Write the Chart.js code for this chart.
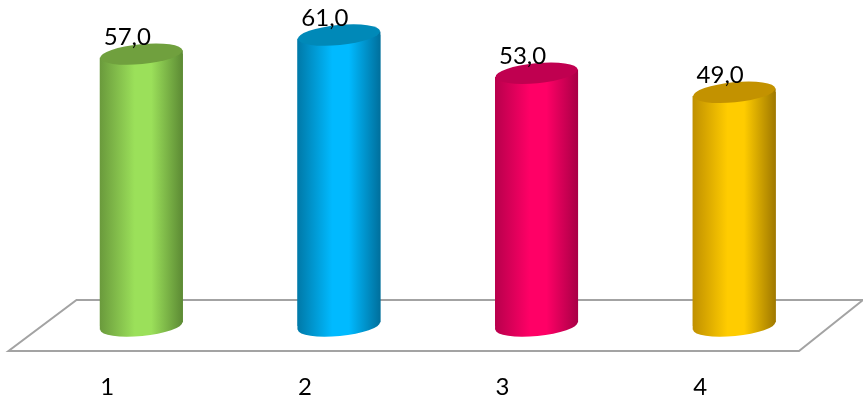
<!DOCTYPE html>
<html>
<head>
<meta charset="utf-8">
<style>
  html, body { margin: 0; padding: 0; background: #fff; }
  #wrap { width: 863px; height: 399px; }
</style>
<script src="https://cdn.jsdelivr.net/npm/chart.js@4"></script>
</head>
<body>
<div id="wrap"><canvas id="myChart" width="863" height="399"></canvas></div>
<script>
const categories = ['1', '2', '3', '4'];
const values = [57, 61, 53, 49];

// edge / middle / edge / cap colours for each cylinder
const edgeLeft = ['#6a9a3c', '#0079a8', '#b8004c', '#c09000'];
const middle = ['#9be05a', '#00baff', '#ff0066', '#ffcc00'];
const edgeRight = ['#5c8a34', '#006f9c', '#a80046', '#9f7800'];
const capColors = ['#70a03e', '#0089b8', '#c00050', '#c39200'];

const barWidth = 83;
const tilt = 3.7; // height offset of the ellipse's side points
const capHeight = 10;

function barGradient(ctx, x, i) {
  if (!Number.isFinite(x)) return middle[i]; // scales not laid out yet
  const left = x - barWidth / 2;
  const g = ctx.createLinearGradient(left, 0, left + barWidth, 0);
  g.addColorStop(0, edgeLeft[i]);
  g.addColorStop(0.42, middle[i]);
  g.addColorStop(0.62, middle[i]);
  g.addColorStop(1, edgeRight[i]);
  return g;
}

function ellipseAt(ctx, bar, y, fill) {
  ctx.beginPath();
  ctx.ellipse(bar.x, y, barWidth / 2 - 0.2, capHeight, -Math.atan2(8, barWidth), 0, Math.PI * 2);
  ctx.fillStyle = fill;
  ctx.fill();
}

// the side of a cylinder, with its ends slanted along the ellipses
function sidePath(ctx, bar) {
  const l = bar.x - barWidth / 2;
  const r = bar.x + barWidth / 2;
  ctx.moveTo(l, bar.y + tilt);
  ctx.lineTo(r, bar.y - tilt);
  ctx.lineTo(r, bar.base - tilt);
  ctx.lineTo(l, bar.base + tilt);
  ctx.closePath();
}

const cylinders = {
  id: 'cylinders',
  beforeDatasetsDraw(chart) {
    const ctx = chart.ctx;
    const a = chart.chartArea;
    const bars = chart.getDatasetMeta(0).data;

    // floor of the 3d plot
    ctx.save();
    ctx.strokeStyle = '#a3a3a3';
    ctx.lineWidth = 2;
    ctx.beginPath();
    ctx.moveTo(a.left - 34, a.bottom + 25);
    ctx.lineTo(a.right - 34, a.bottom + 25);
    ctx.lineTo(a.right + 30, a.bottom - 26);
    ctx.lineTo(a.left + 34, a.bottom - 26);
    ctx.closePath();
    ctx.stroke();
    ctx.restore();

    // round bottoms and the small wedges the square bars leave open
    bars.forEach((bar, i) => {
      const fill = barGradient(ctx, bar.x, i);
      ellipseAt(ctx, bar, bar.base, fill);
      ctx.beginPath();
      sidePath(ctx, bar);
      ctx.fillStyle = fill;
      ctx.fill();
    });

    // keep the square corners from poking out past the ellipses
    ctx.save();
    ctx.beginPath();
    bars.forEach(bar => sidePath(ctx, bar));
    ctx.clip();
  },
  afterDatasetsDraw(chart) {
    const ctx = chart.ctx;
    ctx.restore();
    const bars = chart.getDatasetMeta(0).data;
    bars.forEach((bar, i) => {
      ellipseAt(ctx, bar, bar.y, capColors[i]);
      ctx.save();
      ctx.fillStyle = '#000';
      ctx.font = '24px Lato';
      ctx.textAlign = 'center';
      ctx.textBaseline = 'middle';
      ctx.fillText(values[i].toFixed(1).replace('.', ','), bar.x - 14, bar.y - 17);
      ctx.restore();
    });
  }
};

const myChart = new Chart(document.getElementById('myChart').getContext('2d'), {
  type: 'bar',
  data: {
    labels: categories,
    datasets: [{
      data: values,
      barThickness: barWidth,
      backgroundColor: c => barGradient(c.chart.ctx, c.chart.scales.x.getPixelForValue(c.dataIndex), c.dataIndex)
    }]
  },
  plugins: [cylinders],
  options: {
    responsive: false,
    animation: false,
    layout: { padding: { left: 42.5, right: 30, top: 16 } },
    plugins: { legend: { display: false }, tooltip: { enabled: false } },
    scales: {
      x: {
        grid: { display: false },
        border: { display: false },
        afterFit: s => { s.height = 73; },
        ticks: { color: '#000', font: { family: 'Lato', size: 24 }, labelOffset: -34, padding: 39 }
      },
      y: { display: false, min: 0, max: 65 }
    }
  }
});
myChart.update(); // second pass so the gradients see the laid out scales
</script>
</body>
</html>
